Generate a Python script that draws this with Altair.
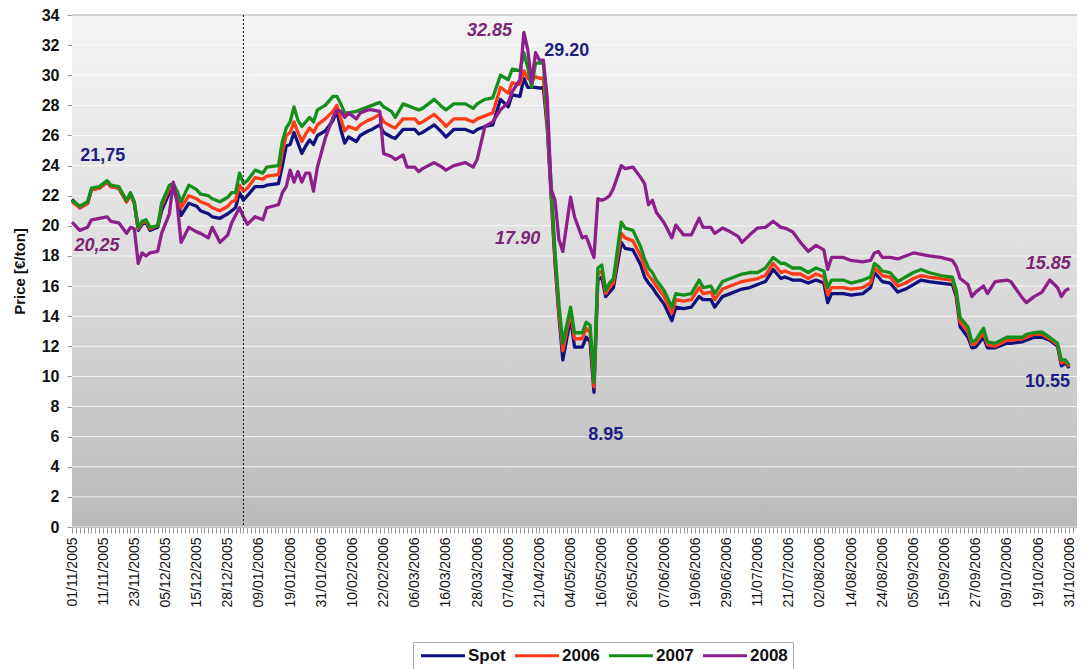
import altair as alt
import pandas as pd

# ---------------- data ----------------
tick_labels = ["01/11/2005", "11/11/2005", "23/11/2005", "05/12/2005", "15/12/2005", "28/12/2005",
               "09/01/2006", "19/01/2006", "31/01/2006", "10/02/2006", "22/02/2006", "06/03/2006",
               "16/03/2006", "28/03/2006", "07/04/2006", "21/04/2006", "04/05/2006", "16/05/2006",
               "26/05/2006", "07/06/2006", "19/06/2006", "29/06/2006", "11/07/2006", "21/07/2006",
               "02/08/2006", "14/08/2006", "24/08/2006", "05/09/2006", "15/09/2006", "27/09/2006",
               "09/10/2006", "19/10/2006", "31/10/2006"]
days_per_label = 8
last_day = 256
axis_end = 258

# trading-day index of each reading
day_idx = [0, 2, 4, 5, 7, 9, 10, 12, 14, 15,
           16, 17, 18, 19, 20, 22, 23, 25, 26, 27,
           28, 30, 32, 33, 35, 36, 38, 40, 41, 42,
           43, 44, 45, 47, 49, 50, 53, 54, 55, 56,
           57, 58, 59, 60, 61, 62, 63, 65, 67, 68,
           69, 70, 71, 73, 74, 76, 77, 79, 80, 82,
           83, 85, 86, 88, 89, 90, 93, 95, 96, 98,
           101, 103, 104, 106, 108, 110, 112, 113, 115, 116,
           117, 118, 119, 120, 121, 122, 123, 124, 125, 126,
           128, 129, 131, 132, 133, 134, 135, 136, 137, 138,
           139, 141, 142, 144, 146, 147, 148, 149, 150, 152,
           154, 155, 157, 159, 161, 162, 164, 165, 167, 169,
           171, 172, 174, 176, 178, 180, 182, 183, 185, 187,
           189, 191, 193, 194, 195, 198, 200, 203, 205, 206,
           207, 208, 210, 212, 214, 216, 218, 220, 223, 226,
           227, 228, 230, 231, 232, 234, 235, 237, 240, 241,
           244, 245, 247, 249, 251, 253, 254, 255, 256]

spot = [21.75, 21.2, 21.5, 22.4, 22.5, 22.9, 22.6, 22.5, 21.6, 22.1,
        21.5, 19.7, 20.1, 20.2, 19.7, 19.9, 21.0, 22.2, 22.4, 21.8,
        20.7, 21.5, 21.3, 21.0, 20.8, 20.6, 20.5, 20.8, 21.0, 21.2,
        22.2, 21.7, 22.0, 22.6, 22.6, 22.7, 22.8, 24.0, 25.3, 25.4,
        26.2, 25.5, 24.8, 25.3, 25.7, 25.4, 26.0, 26.3, 27.0, 27.6,
        26.4, 25.5, 25.9, 25.6, 26.0, 26.3, 26.4, 26.7, 26.2, 25.9,
        25.8, 26.4, 26.4, 26.4, 26.1, 26.2, 26.7, 26.2, 25.9, 26.4,
        26.4, 26.2, 26.4, 26.6, 26.7, 28.4, 27.9, 28.7, 28.6, 29.8,
        29.2, 29.2, 29.2, 29.15, 29.2, 26.5, 22.0, 17.5, 14.0, 11.1,
        13.9, 11.95, 11.95, 12.6, 12.3, 8.95, 16.4, 16.6, 15.3, 15.6,
        15.9, 18.9, 18.5, 18.4, 17.4, 16.6, 16.2, 15.9, 15.5, 14.8,
        13.7, 14.6, 14.5, 14.6, 15.3, 15.1, 15.1, 14.6, 15.3, 15.5,
        15.7, 15.8, 15.9, 16.1, 16.3, 17.1, 16.5, 16.6, 16.4, 16.4,
        16.2, 16.4, 16.2, 14.9, 15.5, 15.5, 15.4, 15.5, 15.9, 16.9,
        16.6, 16.3, 16.2, 15.6, 15.8, 16.1, 16.4, 16.3, 16.2, 16.1,
        15.3, 13.3, 12.6, 11.9, 11.95, 12.6, 11.9, 11.9, 12.2, 12.2,
        12.3, 12.4, 12.6, 12.6, 12.4, 12.0, 10.7, 10.9, 10.55]

fut2006 = [21.6, 21.2, 21.5, 22.4, 22.5, 22.9, 22.6, 22.5, 21.6, 22.1,
           21.5, 19.8, 20.2, 20.3, 19.8, 20.0, 21.3, 22.5, 22.7, 22.1,
           21.2, 22.0, 21.8, 21.6, 21.4, 21.2, 21.0, 21.3, 21.6, 21.7,
           22.7, 22.3, 22.5, 23.2, 23.1, 23.3, 23.4, 24.9, 26.0, 26.2,
           26.9, 26.2, 25.6, 26.1, 26.5, 26.2, 26.7, 27.1, 27.6, 28.0,
           27.1, 26.3, 26.6, 26.4, 26.7, 27.0, 27.1, 27.4, 26.9, 26.6,
           26.5, 27.1, 27.1, 27.1, 26.8, 26.9, 27.4, 26.9, 26.6, 27.1,
           27.1, 26.9, 27.1, 27.3, 27.5, 29.2, 28.8, 29.5, 29.4, 30.3,
           29.8, 29.6, 29.9, 29.8, 29.8, 26.8, 22.3, 17.8, 14.3, 11.7,
           14.3, 12.5, 12.5, 13.2, 12.9, 9.3, 16.8, 17.0, 15.5, 15.9,
           16.2, 19.5, 19.2, 19.0, 18.0, 17.2, 16.7, 16.4, 16.0, 15.3,
           14.2, 15.1, 15.0, 15.1, 15.9, 15.5, 15.6, 15.1, 15.8, 16.0,
           16.2, 16.3, 16.4, 16.5, 16.7, 17.5, 16.9, 17.0, 16.8, 16.8,
           16.5, 16.8, 16.6, 15.4, 15.9, 15.9, 15.8, 15.9, 16.2, 17.2,
           17.0, 16.7, 16.6, 16.0, 16.2, 16.5, 16.7, 16.6, 16.5, 16.4,
           15.5, 13.6, 13.0, 12.1, 12.2, 12.9, 12.1, 12.0, 12.4, 12.4,
           12.5, 12.6, 12.8, 12.8, 12.5, 12.1, 10.9, 11.0, 10.65]

fut2007 = [21.7, 21.3, 21.6, 22.5, 22.6, 23.0, 22.7, 22.6, 21.7, 22.2,
           21.6, 19.9, 20.3, 20.4, 19.9, 20.0, 21.5, 22.7, 22.8, 22.3,
           21.6, 22.7, 22.4, 22.1, 22.0, 21.8, 21.6, 21.9, 22.2, 22.2,
           23.5, 22.8, 23.0, 23.7, 23.5, 23.9, 24.0, 25.6, 26.5, 26.9,
           27.9, 27.0, 26.6, 26.9, 27.2, 26.9, 27.7, 28.0, 28.6, 28.6,
           28.1, 27.5, 27.5, 27.6, 27.7, 27.9, 28.0, 28.2, 27.9, 27.6,
           27.2, 28.1, 28.0, 27.8, 27.7, 27.8, 28.4, 27.9, 27.7, 28.1,
           28.1, 27.8, 28.1, 28.4, 28.5, 30.0, 29.7, 30.4, 30.3, 31.5,
           30.5, 29.2, 30.8, 30.8, 30.8, 27.3, 22.7, 18.3, 14.8, 12.2,
           14.6, 12.9, 12.9, 13.6, 13.4, 9.6, 17.2, 17.4, 15.7, 16.2,
           16.5, 20.25, 19.85, 19.7, 18.6, 17.8, 17.2, 16.9, 16.4, 15.7,
           14.6, 15.5, 15.4, 15.5, 16.4, 15.9, 16.0, 15.5, 16.3, 16.5,
           16.7, 16.8, 16.9, 16.9, 17.2, 17.9, 17.5, 17.5, 17.2, 17.2,
           16.9, 17.2, 17.0, 15.9, 16.4, 16.4, 16.2, 16.4, 16.6, 17.5,
           17.3, 17.0, 16.9, 16.3, 16.6, 16.9, 17.1, 16.9, 16.7, 16.6,
           15.7, 13.9, 13.3, 12.3, 12.4, 13.2, 12.3, 12.2, 12.6, 12.6,
           12.6, 12.8, 12.9, 12.95, 12.6, 12.2, 11.1, 11.1, 10.75]

fut2008 = [20.25, 19.7, 19.9, 20.4, 20.5, 20.6, 20.3, 20.2, 19.5, 19.9,
           19.8, 17.5, 18.2, 18.0, 18.2, 18.3, 19.5, 20.8, 22.9, 21.5,
           18.9, 19.9, 19.6, 19.5, 19.2, 19.9, 18.9, 19.4, 20.2, 20.7,
           21.2, 20.6, 20.1, 20.6, 20.4, 21.2, 21.4, 22.2, 22.6, 23.7,
           22.9, 23.6, 22.9, 23.5, 23.5, 22.3, 23.9, 25.8, 27.2, 27.7,
           27.6, 27.2, 27.5, 27.1, 27.5, 27.7, 27.7, 27.6, 24.8, 24.6,
           24.4, 24.7, 23.9, 23.9, 23.6, 23.8, 24.2, 23.9, 23.7, 24.0,
           24.2, 23.9, 24.4, 26.6, 26.9, 27.7, 28.2, 28.9, 29.7, 32.85,
           31.7, 29.5, 31.5, 31.0, 31.0, 28.5, 22.4, 21.7, 19.1, 18.3,
           21.9, 20.6, 19.2, 19.3, 18.6, 17.9, 21.8, 21.7, 21.8, 22.0,
           22.5, 24.0, 23.8, 23.9, 23.2, 22.8, 21.4, 21.7, 20.9, 20.2,
           19.2, 20.05, 19.4, 19.4, 20.5, 19.9, 19.9, 19.5, 19.85, 19.6,
           19.3, 18.9, 19.4, 19.85, 19.9, 20.3, 19.9, 19.85, 19.6, 18.9,
           18.3, 18.7, 18.4, 17.1, 17.9, 17.9, 17.7, 17.6, 17.7, 18.2,
           18.3, 17.9, 17.9, 17.8, 18.0, 18.2, 18.1, 18.0, 17.9, 17.7,
           17.3, 16.5, 16.1, 15.3, 15.6, 16.0, 15.5, 16.3, 16.4, 16.3,
           15.2, 14.9, 15.3, 15.6, 16.4, 15.9, 15.3, 15.7, 15.85]

series_names = ["Spot", "2006", "2007", "2008"]
series_values = [spot, fut2006, fut2007, fut2008]
series_colors = ["#10107e", "#ff3a17", "#14901a", "#8c1f8c"]

# point labels
ann_text = ["21,75", "29.20", "8.95", "10.55", "20,25", "32.85", "17.90", "15.85"]
ann_day = [7.9, 127.0, 137.0, 250.4, 6.4, 107.2, 114.4, 250.6]
ann_price = [24.63, 31.6, 6.11, 9.63, 18.66, 32.93, 19.12, 17.46]
ann_series = ["Spot", "Spot", "Spot", "Spot", "2008", "2008", "2008", "2008"]

divider_days = [44]          # start of 2006
y_ticks = list(range(0, 35, 2))

# ---------------- tables ----------------
for vals in series_values:
    assert len(vals) == len(day_idx)

rows = []
for name, vals in zip(series_names, series_values):
    for d, v in zip(day_idx, vals):
        rows.append({"day": d, "series": name, "price": v})
df = pd.DataFrame(rows)
ann_df = pd.DataFrame({"text": ann_text, "day": ann_day, "price": ann_price, "series": ann_series})
div_df = pd.DataFrame({"day": divider_days})
grid_df = pd.DataFrame({"price": y_ticks})
bg_df = pd.DataFrame({"k": [0]})

FONT = "Liberation Sans, Arial, sans-serif"
labels_js = "[" + ",".join("'" + t + "'" for t in tick_labels) + "]"
label_expr = f"datum.value % {days_per_label} === 0 ? {labels_js}[datum.value / {days_per_label}] : ''"

x_scale = alt.Scale(domain=[0, axis_end], nice=False, zero=False)
y_scale = alt.Scale(domain=[0, 34], nice=False)

x_axis = alt.Axis(values=list(range(0, axis_end + 1)), labelExpr=label_expr, labelAngle=270,
                  labelFont=FONT, labelFontSize=14, labelColor="#111111", labelOverlap=False,
                  labelFlush=False, labelPadding=4, tickSize=6, tickColor="#9a9a9a", tickWidth=1,
                  domainColor="#9a9a9a", grid=False, title=None)
y_axis = alt.Axis(values=y_ticks, labelFont=FONT, labelFontSize=16, labelFontWeight="bold",
                  labelColor="#111111", labelPadding=8, tickSize=5, tickColor="#9a9a9a",
                  domainColor="#9a9a9a", grid=False, title="Price [€/ton]", titleFont=FONT,
                  titleFontSize=15, titleFontWeight="bold", titleColor="#111111", titlePadding=14)


def xe(field="day"):
    return alt.X(f"{field}:Q", scale=x_scale, axis=x_axis)


def ye(field="price"):
    return alt.Y(f"{field}:Q", scale=y_scale, axis=y_axis)


legend = alt.Legend(orient="none", legendX=341, legendY=627, direction="horizontal", title=None,
                    symbolType="M-1,0L7,0", symbolSize=121, symbolStrokeWidth=3,
                    labelFont=FONT, labelFontSize=17, labelFontWeight="bold", labelColor="#111111",
                    labelOffset=33, columnPadding=3, padding=5, strokeColor="#a8a8a8",
                    fillColor="#ffffff")
color_enc = alt.Color("series:N", scale=alt.Scale(domain=series_names, range=series_colors),
                      legend=legend)

bg = alt.Chart(bg_df).mark_rect(
    color=alt.Gradient(gradient="linear", x1=0, x2=0, y1=0, y2=1,
                       stops=[alt.GradientStop(color="#f4f4f4", offset=0),
                              alt.GradientStop(color="#dcdcdc", offset=0.5),
                              alt.GradientStop(color="#bababa", offset=1)])
).encode(x=alt.value(0), x2=alt.value("width"), y=alt.value(0), y2=alt.value("height"))

grid = alt.Chart(grid_df).mark_rule(color="#ffffff", strokeWidth=1, opacity=0.75).encode(y=ye())
top_border = alt.Chart(grid_df).transform_filter("datum.price == 34").mark_rule(
    color="#c4c4c4", strokeWidth=1.5).encode(y=ye())

line_layers = []
for name in series_names:
    line_layers.append(
        alt.Chart(df).transform_filter(alt.datum.series == name)
        .mark_line(strokeWidth=3.3, strokeJoin="round")
        .encode(x=xe(), y=ye(), color=color_enc)
    )

divider = alt.Chart(div_df).mark_rule(color="#111111", strokeWidth=1, strokeDash=[2, 2]).encode(x=xe())

txt_spot = alt.Chart(ann_df).transform_filter(alt.datum.series == "Spot").mark_text(
    font=FONT, fontSize=18, fontWeight="bold", color="#1e1e82"
).encode(x=xe(), y=ye(), text="text:N")
txt_2008 = alt.Chart(ann_df).transform_filter(alt.datum.series == "2008").mark_text(
    font=FONT, fontSize=18, fontWeight="bold", fontStyle="italic", color="#7a2472"
).encode(x=xe(), y=ye(), text="text:N")

chart = alt.layer(bg, grid, top_border, *line_layers, divider, txt_spot, txt_2008).properties(
    width=1005, height=512,
    padding={"left": 64, "top": 7, "right": 0, "bottom": 142},
    autosize=alt.AutoSizeParams(type="none"),
    background="#ffffff",
).configure_view(strokeWidth=0)

chart.save("out.html", embed_options={"renderer": "svg", "actions": False})
